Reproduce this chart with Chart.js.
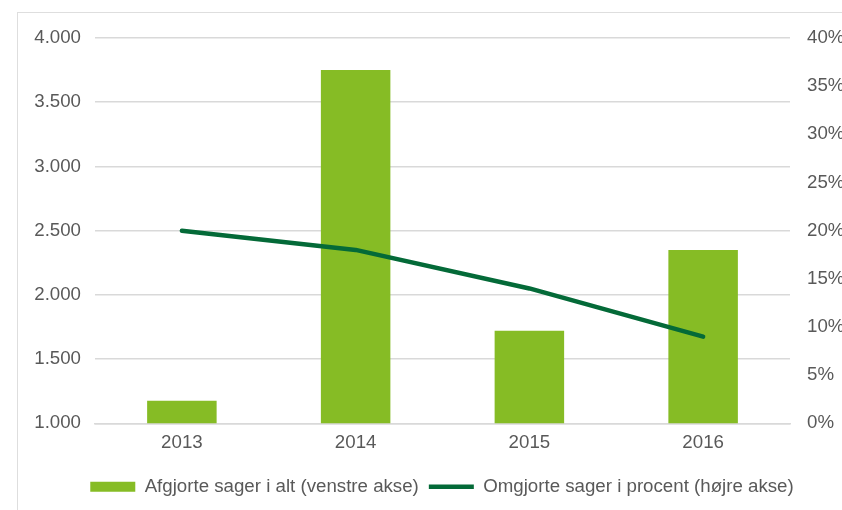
<!DOCTYPE html>
<html>
<head>
<meta charset="utf-8">
<script src="https://cdn.jsdelivr.net/npm/chart.js@4"></script>
<style>
  html, body { margin:0; padding:0; background:#fff; overflow:hidden; }
  #wrap { position:relative; width:842px; height:510px; }
  #frame { position:absolute; left:17px; top:12px; width:900px; height:600px;
           border:1.5px solid #dedede; box-sizing:border-box; }
  canvas { position:absolute; left:0; top:0; }
</style>
</head>
<body>
<div id="wrap">
  <div id="frame"></div>
  <canvas id="c" width="842" height="510"></canvas>
</div>
<script>
// ─── Data ─────────────────────────────────────────────────────────────
const years       = ['2013', '2014', '2015', '2016'];
const afgjorte    = [1175, 3750, 1720, 2350];   // venstre akse
const omgjortePct = [20, 18, 14, 9];            // højre akse (%)

const leftTicks  = { min:1000, max:4000, step:500 };
const rightTicks = { min:0,    max:40,   step:5 };

const BAR_COL  = '#86bc25';
const LINE_COL = '#046a38';
const TXT      = '#595959';
const GRID     = '#d9d9d9';
const FONT     = { family:"'Liberation Sans', Arial, sans-serif", size:18.7 };

// dansk tusindtalsseparator
const fmtDk = v => String(Math.round(v)).replace(/\B(?=(\d{3})+(?!\d))/g, '.');

// legend sits a bit right of canvas centre in the original
const legendShift = {
  id: 'legendShift',
  afterLayout(chart) { if (chart.legend) chart.legend.left += 42; }
};

new Chart(document.getElementById('c').getContext('2d'), {
  type: 'bar',
  data: {
    labels: years,
    datasets: [
      { label:'Afgjorte sager i alt (venstre akse)', data:afgjorte, yAxisID:'y',
        backgroundColor:BAR_COL, borderWidth:0, barPercentage:0.4, categoryPercentage:1, order:2 },
      { type:'line', label:'Omgjorte sager i procent (højre akse)', data:omgjortePct, yAxisID:'y1',
        borderColor:LINE_COL, backgroundColor:LINE_COL, borderWidth:4.5, borderCapStyle:'round',
        borderJoinStyle:'round', pointRadius:0, tension:0, order:1 },
    ]
  },
  plugins: [legendShift],
  options: {
    responsive: false,
    animation: false,
    layout: { padding:{ left:0, right:0, top:38, bottom:4 } },
    plugins: {
      tooltip: { enabled:false },
      legend: {
        position: 'bottom',
        labels: {
          color: TXT, font: FONT, usePointStyle: true, pointStyleWidth: 45, boxHeight: 10, padding: 10,
          sort: (a, b) => a.datasetIndex - b.datasetIndex,
          generateLabels(chart) {
            const items = Chart.defaults.plugins.legend.labels.generateLabels(chart);
            items.forEach(it => { it.pointStyle = it.datasetIndex === 0 ? 'rect' : 'line'; });
            return items;
          }
        }
      }
    },
    scales: {
      x: {
        grid: { display:false, drawTicks:false },
        border: { display:true, color:GRID, width:1.5 },
        ticks: { color:TXT, font:FONT, padding:8 },
        afterFit(s) { s.height = 44; }
      },
      y: {
        position: 'left', min:leftTicks.min, max:leftTicks.max,
        grid: { color:GRID, lineWidth:1.5, drawTicks:false },
        border: { display:false },
        ticks: { color:TXT, font:FONT, stepSize:leftTicks.step, padding:14, callback:v => fmtDk(v) },
        afterFit(s) { s.width = 95; }
      },
      y1: {
        position: 'right', min:rightTicks.min, max:rightTicks.max,
        grid: { display:false, drawTicks:false },
        border: { display:false },
        ticks: { color:TXT, font:FONT, stepSize:rightTicks.step, padding:17, callback:v => v + '%' },
        afterFit(s) { s.width = 52; }
      }
    }
  }
});
</script>
</body>
</html>
